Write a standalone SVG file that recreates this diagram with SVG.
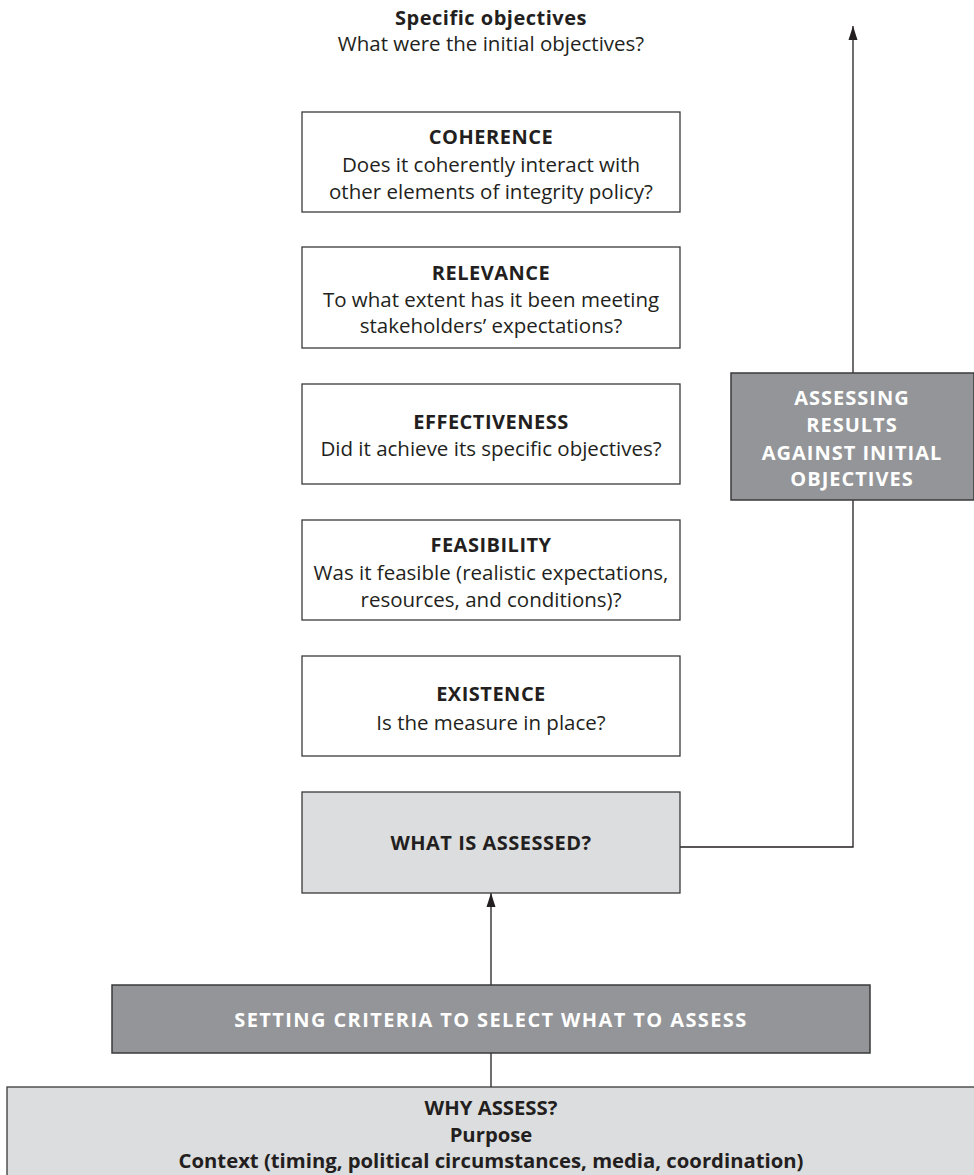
<svg xmlns="http://www.w3.org/2000/svg" width="974" height="1175" viewBox="0 0 974 1175">
<style>
  text { font-family: "Open Sans", "Noto Sans", "DejaVu Sans", sans-serif; fill: #231f20; text-anchor: middle; font-size: 20.5px; }
  .b { font-weight: bold; font-size: 20px; letter-spacing: 0.5px; }
  .bb { font-weight: bold; font-size: 20.3px; }
  .w { fill: #ffffff; font-weight: bold; font-size: 20px; letter-spacing: 1px; }
  .ws { fill: #ffffff; font-weight: bold; font-size: 20px; letter-spacing: 1.4px; }
  .box { fill: #ffffff; stroke: #3a3a3a; stroke-width: 1.3; }
  .light { fill: #dcdddf; stroke: #3a3a3a; stroke-width: 1.3; }
  .dark { fill: #939598; stroke: #3a3a3a; stroke-width: 1.5; }
  .conn { fill: none; stroke: #231f20; stroke-width: 1.3; }
</style>
<defs>
  <marker id="arrL" viewBox="0 0 14 10" refX="14" refY="5" markerWidth="14" markerHeight="10" markerUnits="userSpaceOnUse" orient="auto">
    <path d="M0,0.5 L14,5 L0,9.5 Z" fill="#231f20"/>
  </marker>
</defs>

<g id="connectors">
  <path class="conn" d="M680,847 H853 V500"/>
  <path class="conn" d="M853,373 V26" marker-end="url(#arrL)"/>
  <path class="conn" d="M491,985 V893" marker-end="url(#arrL)"/>
  <path class="conn" d="M491,1053 V1087"/>
</g>

<g id="specific-objectives">
  <text x="491" y="25" class="b">Specific objectives</text>
  <text x="491" y="51">What were the initial objectives?</text>
</g>

<g id="coherence">
  <rect class="box" x="302" y="112" width="378" height="100"/>
  <text x="491" y="144" class="b">COHERENCE</text>
  <text x="491" y="172">Does it coherently interact with</text>
  <text x="491" y="199">other elements of integrity policy?</text>
</g>

<g id="relevance">
  <rect class="box" x="302" y="247" width="378" height="101"/>
  <text x="491" y="280" class="b">RELEVANCE</text>
  <text x="491" y="307">To what extent has it been meeting</text>
  <text x="491" y="333">stakeholders’ expectations?</text>
</g>

<g id="effectiveness">
  <rect class="box" x="302" y="384" width="378" height="100"/>
  <text x="491" y="429" class="b">EFFECTIVENESS</text>
  <text x="491" y="456">Did it achieve its specific objectives?</text>
</g>

<g id="feasibility">
  <rect class="box" x="302" y="520" width="378" height="100"/>
  <text x="491" y="552" class="b">FEASIBILITY</text>
  <text x="491" y="580">Was it feasible (realistic expectations,</text>
  <text x="491" y="607">resources, and conditions)?</text>
</g>

<g id="existence">
  <rect class="box" x="302" y="656" width="378" height="100"/>
  <text x="491" y="701" class="b">EXISTENCE</text>
  <text x="491" y="730">Is the measure in place?</text>
</g>

<g id="what-is-assessed">
  <rect class="light" x="302" y="792" width="378" height="101"/>
  <text x="491" y="850" class="b">WHAT IS ASSESSED?</text>
</g>

<g id="assessing-results">
  <rect class="dark" x="731" y="373" width="243" height="127"/>
  <text x="852" y="405" class="w">ASSESSING</text>
  <text x="852" y="432" class="w">RESULTS</text>
  <text x="852" y="460" class="w">AGAINST INITIAL</text>
  <text x="852" y="486" class="w">OBJECTIVES</text>
</g>

<g id="setting-criteria">
  <rect class="dark" x="112" y="985" width="758" height="68"/>
  <text x="491" y="1027" class="ws">SETTING CRITERIA TO SELECT WHAT TO ASSESS</text>
</g>

<g id="why-assess">
  <rect class="light" x="7" y="1087" width="980" height="100"/>
  <text x="491" y="1115" class="bb">WHY ASSESS?</text>
  <text x="491" y="1142" class="bb">Purpose</text>
  <text x="491" y="1168" class="bb">Context (timing, political circumstances, media, coordination)</text>
</g>
</svg>
